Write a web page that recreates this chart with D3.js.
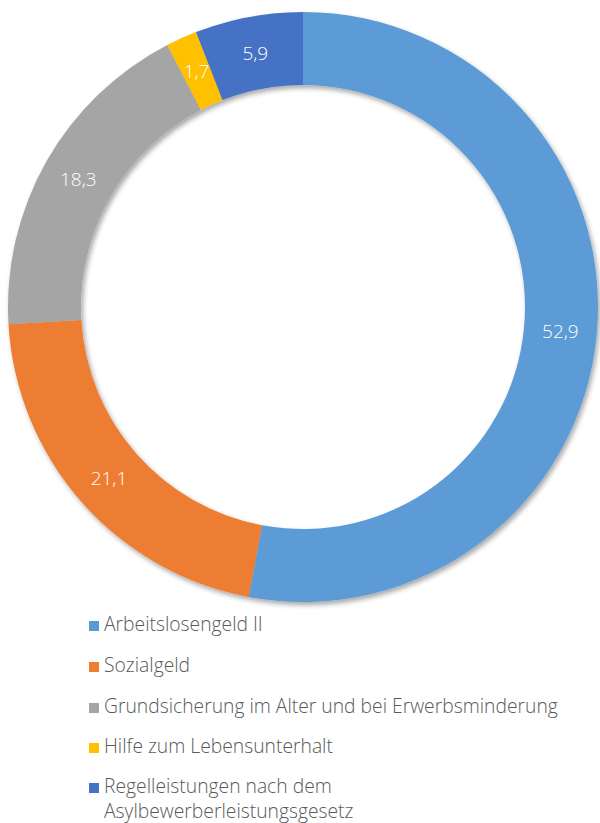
<!DOCTYPE html>
<html><head><meta charset="utf-8">
<script src="https://cdn.jsdelivr.net/npm/d3@7"></script>
<style>body{margin:0;background:#fff}svg{display:block}</style>
</head><body>
<script>
const categories = ["Arbeitslosengeld II","Sozialgeld","Grundsicherung im Alter und bei Erwerbsminderung","Hilfe zum Lebensunterhalt","Regelleistungen nach dem Asylbewerberleistungsgesetz"];
const legendLines = [["Arbeitslosengeld II"],["Sozialgeld"],["Grundsicherung im Alter und bei Erwerbsminderung"],["Hilfe zum Lebensunterhalt"],["Regelleistungen nach dem","Asylbewerberleistungsgesetz"]];
const values = [52.9, 21.1, 18.3, 1.7, 5.9];
const labels = ["52,9","21,1","18,3","1,7","5,9"];
const colors = ["#5B9BD5","#ED7D31","#A5A5A5","#FFC000","#4472C4"];

const W = 600, H = 823;
const svg = d3.select("body").append("svg").attr("width", W).attr("height", H);
const defs = svg.append("defs");
const f = defs.append("filter").attr("id","sh").attr("x","-10%").attr("y","-10%").attr("width","120%").attr("height","120%");
f.append("feDropShadow").attr("dx",2).attr("dy",3).attr("stdDeviation",2.5).attr("flood-color","#000").attr("flood-opacity",0.35);

const cx = 303, cy = 307, R = 295, r = 222;
const pie = d3.pie().sort(null).value(d => d);
const arcs = pie(values);
const arc = d3.arc().innerRadius(r).outerRadius(R);
const g = svg.append("g").attr("transform", `translate(${cx},${cy})`);
g.append("g").attr("filter","url(#sh)").selectAll("path").data(arcs).join("path")
  .attr("d", arc).attr("fill", (d,i) => colors[i]);
const labelArc = d3.arc().innerRadius((R+r)/2).outerRadius((R+r)/2);
g.selectAll("text").data(arcs).join("text")
  .attr("transform", d => `translate(${labelArc.centroid(d)})`)
  .attr("text-anchor","middle").attr("dy","0.36em")
  .attr("fill","#fff").attr("font-family","Open Sans").attr("font-size",19).attr("font-weight",300)
  .text((d,i) => labels[i]);

const lg = svg.append("g");
const baselines = [631, 672, 713, 753, 793];
legendLines.forEach((lines, i) => {
  lg.append("rect").attr("x",89).attr("y",baselines[i]-10).attr("width",10).attr("height",10).attr("fill",colors[i]);
  lines.forEach((l, j) => lg.append("text").attr("x",104).attr("y",baselines[i] + j*25).attr("fill","#595959")
    .attr("font-family","Open Sans").attr("font-size",19.3).attr("font-weight",300).text(l));
});
</script>
</body></html>
